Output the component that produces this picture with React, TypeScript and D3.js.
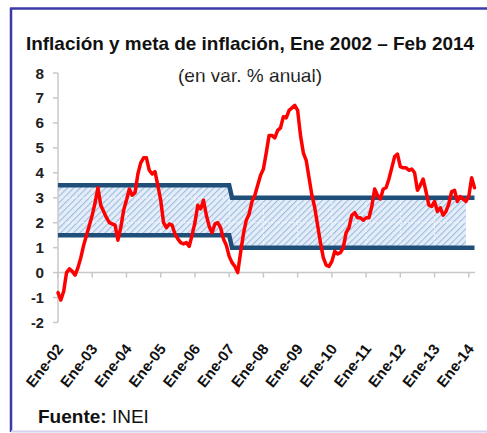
import React from "react";
import * as d3 from "d3";

const W = 487;
const H = 433;

const yTicks = [8, 7, 6, 5, 4, 3, 2, 1, 0, -1, -2];
const xTickLabels = ["Ene-02", "Ene-03", "Ene-04", "Ene-05", "Ene-06", "Ene-07", "Ene-08", "Ene-09", "Ene-10", "Ene-11", "Ene-12", "Ene-13", "Ene-14"];

// Monthly inflation (12-month % change), Jan 2002 - Mar 2014
const inflation2002 = [-0.8, -1.1, -0.75, 0.0, 0.15, 0.05, -0.1, 0.2, 0.6, 1.1, 1.5, 1.9];
const inflation2003 = [2.3, 2.8, 3.4, 2.7, 2.45, 2.2, 2.0, 1.95, 1.9, 1.3, 1.8, 2.5];
const inflation2004 = [2.9, 3.35, 3.1, 3.2, 3.95, 4.4, 4.6, 4.6, 4.1, 3.95, 4.05, 3.5];
const inflation2005 = [2.9, 2.0, 1.8, 1.95, 1.9, 1.55, 1.35, 1.2, 1.15, 1.2, 1.05, 1.5];
const inflation2006 = [2.0, 2.7, 2.55, 2.9, 2.3, 1.85, 1.6, 1.95, 2.0, 1.8, 1.35, 1.1];
const inflation2007 = [0.65, 0.4, 0.25, 0.0, 0.8, 1.55, 2.1, 2.35, 2.85, 3.1, 3.5, 3.9];
const inflation2008 = [4.15, 4.8, 5.5, 5.5, 5.4, 5.7, 5.8, 6.25, 6.2, 6.5, 6.6, 6.7];
const inflation2009 = [6.5, 5.5, 4.8, 4.5, 3.8, 3.1, 2.6, 1.9, 1.2, 0.6, 0.3, 0.25];
const inflation2010 = [0.45, 0.85, 0.75, 0.8, 1.0, 1.6, 1.8, 2.3, 2.4, 2.2, 2.2, 2.1];
const inflation2011 = [2.2, 2.2, 2.65, 3.35, 3.1, 2.95, 3.35, 3.4, 3.75, 4.2, 4.65, 4.75];
const inflation2012 = [4.25, 4.2, 4.2, 4.1, 4.15, 4.0, 3.3, 3.5, 3.75, 3.25, 2.7, 2.65];
const inflation2013 = [2.85, 2.45, 2.6, 2.3, 2.45, 2.75, 3.25, 3.3, 2.85, 3.05, 2.95, 2.85];
const inflation2014 = [3.05, 3.8, 3.4];

const inflation = [
  ...inflation2002, ...inflation2003, ...inflation2004, ...inflation2005,
  ...inflation2006, ...inflation2007, ...inflation2008, ...inflation2009,
  ...inflation2010, ...inflation2011, ...inflation2012, ...inflation2013,
  ...inflation2014,
];

// Target range: 1.5-3.5 until Jan 2007, then 1.0-3.0
const targetChangeIndex = 61;
const upperOld = 3.5;
const lowerOld = 1.5;
const upperNew = 3.0;
const lowerNew = 1.0;
const bandAreaEnd = 143;

const upper = inflation.map((_, i) => (i < targetChangeIndex ? upperOld : upperNew));
const lower = inflation.map((_, i) => (i < targetChangeIndex ? lowerOld : lowerNew));

export default function App() {
  const x = d3.scaleLinear().domain([0, 146]).range([58, 474.5]);
  const y = d3.scaleLinear().domain([-2, 8]).range([322.5, 73]);

  const idx = inflation.map((_, i) => i);
  const line = d3.line<number>().x((i) => x(i)).y((i) => y(inflation[i]));
  const upLine = d3.line<number>().x((i) => x(i)).y((i) => y(upper[i]));
  const loLine = d3.line<number>().x((i) => x(i)).y((i) => y(lower[i]));
  const area = d3
    .area<number>()
    .x((i) => x(i))
    .y0((i) => y(lower[i]))
    .y1((i) => y(upper[i]));
  const areaIdx = idx.filter((i) => i <= bandAreaEnd);

  const font = "'Liberation Sans', Arial, sans-serif";
  const yearTicks = xTickLabels.map((_, k) => k * 12);

  return (
    <svg
      width={W}
      height={H}
      style={{ position: "absolute", left: 0, top: 0, background: "#fff" }}
    >
      <defs>
        <pattern id="hatch" width="4.5" height="4.5" patternUnits="userSpaceOnUse" patternTransform="rotate(45)">
          <rect width="4.5" height="4.5" fill="#e4edf8" />
          <line x1="0" y1="0" x2="0" y2="4.5" stroke="#9dbde2" strokeWidth="2.2" />
        </pattern>
      </defs>

      {/* frame */}
      <line x1={11} y1={8} x2={11} y2={432} stroke="#3b3ba8" strokeWidth={2.5} />
      <line x1={10} y1={8.5} x2={487} y2={8.5} stroke="#3b3ba8" strokeWidth={2.5} />
      <line x1={11} y1={431.5} x2={487} y2={431.5} stroke="#d2d2f0" strokeWidth={2} />

      {/* title */}
      <text x={250} y={50} textAnchor="middle" fontFamily={font} fontWeight="bold" fontSize={19} fill="#111" textLength={448} lengthAdjust="spacingAndGlyphs">
        Inflación y meta de inflación, Ene 2002 – Feb 2014
      </text>
      <text x={250} y={82} textAnchor="middle" fontFamily={font} fontSize={19} fill="#222" textLength={144} lengthAdjust="spacingAndGlyphs">
        (en var. % anual)
      </text>

      {/* band */}
      <path d={area(areaIdx) || ""} fill="url(#hatch)" />

      {/* white dotted gridlines (visible over hatch) */}
      {yTicks.map((t) => (
        <line key={"g" + t} x1={58} x2={474} y1={y(t)} y2={y(t)} stroke="#fff" strokeWidth={1} strokeDasharray="1.5,2" opacity={0.9} />
      ))}
      {yearTicks.map((i) => (
        <line key={"v" + i} x1={x(i)} x2={x(i)} y1={y(8)} y2={y(-2)} stroke="#fff" strokeWidth={1} strokeDasharray="1.5,2" opacity={0.9} />
      ))}

      {/* axes */}
      <line x1={58} x2={58} y1={y(8)} y2={y(-2)} stroke="#c8c8c8" strokeWidth={1.5} />
      {yTicks.map((t) => (
        <g key={"yt" + t}>
          <line x1={53} x2={58} y1={y(t)} y2={y(t)} stroke="#c8c8c8" strokeWidth={1.5} />
          <text x={44} y={y(t) + 5.5} textAnchor="end" fontFamily={font} fontWeight="bold" fontSize={15.5} fill="#222" textLength={t < 0 ? 13 : 8.5} lengthAdjust="spacingAndGlyphs">
            {t}
          </text>
        </g>
      ))}
      <line x1={58} x2={475} y1={y(0)} y2={y(0)} stroke="#c8c8c8" strokeWidth={1.5} />
      {yearTicks.map((i) => (
        <line key={"xt" + i} x1={x(i)} x2={x(i)} y1={y(0)} y2={y(0) + 5} stroke="#c8c8c8" strokeWidth={1.5} />
      ))}

      {/* target lines */}
      <path d={upLine(idx) || ""} fill="none" stroke="#1f4e79" strokeWidth={4.5} />
      <path d={loLine(idx) || ""} fill="none" stroke="#1f4e79" strokeWidth={4.5} />

      {/* inflation */}
      <path d={line(idx) || ""} fill="none" stroke="#ff0000" strokeWidth={3.5} strokeLinejoin="round" strokeLinecap="round" />

      {/* x labels */}
      {xTickLabels.map((lab, k) => {
        const px = x(k * 12) + 6;
        const py = 349;
        return (
          <text key={lab} x={px} y={py} transform={`rotate(-52 ${px} ${py})`} textAnchor="end" fontFamily={font} fontWeight="bold" fontSize={15} fill="#111" textLength={50} lengthAdjust="spacingAndGlyphs">
            {lab}
          </text>
        );
      })}

      {/* source */}
      <text x={38} y={423} fontFamily={font} fontSize={19} fill="#111">
        <tspan fontWeight="bold">Fuente:</tspan>
        <tspan> INEI</tspan>
      </text>
    </svg>
  );
}
